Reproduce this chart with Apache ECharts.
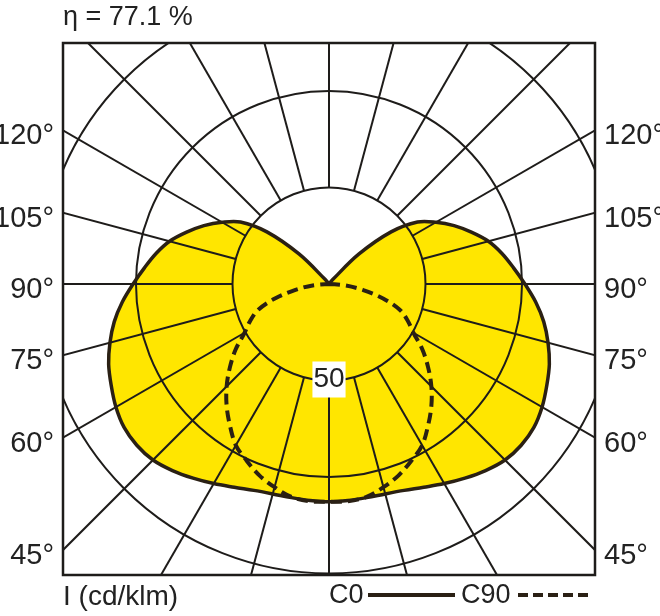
<!DOCTYPE html>
<html><head><meta charset="utf-8">
<script src="https://cdn.jsdelivr.net/npm/echarts@6/dist/echarts.min.js"></script>
<style>html,body{margin:0;padding:0;background:#fff}#c{width:660px;height:616px}</style>
</head><body><div id="c"></div>
<script>
// ---- data ----
const gammaDeg = [0,5,10,15,20,25,30,35,40,45,50,55,60,65,70,75,80,85,90,95,100,105,110,115,120,125,130,135,140,145,150,155,160,165,170,175,180];
const c0Values = [112.8,112.6,112.4,112.6,113.8,116.2,119.4,122.8,126.2,129.0,130.0,129.6,127.5,124.5,121.5,117.5,113.0,107.5,101.5,96.0,91.0,85.5,78.5,71.5,64.0,56.0,42.0,22.0,3.0,0,0,0,0,0,0,0,0];
const c90Values = [112.8,113.0,112.0,109.0,105.5,101.0,96.5,89.5,82.5,75.0,67.0,59.0,50.5,45.0,39.0,29.0,18.0,8.5,0,0,0,0,0,0,0,0,0,0,0,0,0,0,0,0,0,0,0];
const ringValues = [50,100,150];
const spokeDeg = [0,15,30,45,60,75,90,105,120,135,150,165,180,195,210,225,240,255,270,285,300,315,330,345];
const angleTickDeg = [45,60,75,90,105,120];
const angleTickLabels = ['45°','60°','75°','90°','105°','120°'];
const efficiencyText = 'η = 77.1 %';
const unitText = 'I (cd/klm)';
const ringLabelValue = 50;
const legendNames = ['C0','C90'];

// ---- layout / style ----
const X_EXT = 137.82, Y_TOP = 124.87, Y_BOTTOM = -150.78;
const FONT = "'Liberation Sans', Arial, sans-serif";
const INK = '#1e1c1a';
const TEXT = '#222222';
const CURVE = '#2a2014';
const YELLOW = '#FFE600';

function toXY(g, I, side) {
  const r = g * Math.PI / 180;
  return [side * I * Math.sin(r), -I * Math.cos(r)];
}
function curvePoints(vals) {
  let z = vals.findIndex((v, i) => i > 0 && v === 0);
  if (z < 0) z = vals.length - 1;
  const pts = [];
  for (let i = z; i >= 0; i--) pts.push(toXY(gammaDeg[i], vals[i], 1));
  for (let i = 1; i <= z; i++) pts.push(toXY(gammaDeg[i], vals[i], -1));
  return pts;
}
const c0Pts = curvePoints(c0Values);
const c90Pts = curvePoints(c90Values);

const chart = echarts.init(document.getElementById('c'), null, {renderer: 'canvas'});
chart.setOption({
  animation: false,
  backgroundColor: '#fff',
  grid: {left: 63, top: 43, width: 532, height: 532, show: true, borderColor: INK, borderWidth: 2.5, backgroundColor: 'transparent', z: 10},
  xAxis: {type: 'value', min: -X_EXT, max: X_EXT, show: false},
  yAxis: {type: 'value', min: Y_BOTTOM, max: Y_TOP, show: false},
  graphic: [
    {type: 'text', left: 63, top: 4, style: {text: efficiencyText, font: '27px ' + FONT, fill: TEXT}},
    {type: 'text', left: 63, top: 583, style: {text: unitText, font: '28px ' + FONT, fill: TEXT}},
    {type: 'text', left: 329, top: 582, style: {text: legendNames[0], font: '27px ' + FONT, fill: TEXT}},
    {type: 'line', shape: {x1: 368, y1: 595, x2: 455, y2: 595}, style: {stroke: CURVE, lineWidth: 4}},
    {type: 'text', left: 461, top: 582, style: {text: legendNames[1], font: '27px ' + FONT, fill: TEXT}},
    {type: 'line', shape: {x1: 518, y1: 595, x2: 590, y2: 595}, style: {stroke: CURVE, lineWidth: 4, lineDash: [10, 5]}}
  ],
  series: [
    { // fill
      type: 'custom', coordinateSystem: 'cartesian2d', clip: true, z: 1, data: [[0, 0]], silent: true,
      renderItem: (p, api) => ({type: 'polygon', shape: {points: c0Pts.map(q => api.coord(q)), smooth: 0.35}, style: {fill: YELLOW, stroke: null}})
    },
    { // grid
      type: 'custom', coordinateSystem: 'cartesian2d', clip: true, z: 2, data: [[0, 0]], silent: true,
      renderItem: (p, api) => {
        const c = api.coord([0, 0]);
        const children = ringValues.map(v => ({type: 'circle', shape: {cx: c[0], cy: c[1], r: api.size([v, 0])[0]}, style: {fill: null, stroke: INK, lineWidth: 2}}));
        spokeDeg.forEach(g => {
          const a = api.coord(toXY(g, ringValues[0], 1));
          const b = api.coord(toXY(g, 400, 1));
          children.push({type: 'line', shape: {x1: a[0], y1: a[1], x2: b[0], y2: b[1]}, style: {stroke: INK, lineWidth: 2}});
        });
        return {type: 'group', children};
      }
    },
    { // C90 dashed
      type: 'custom', coordinateSystem: 'cartesian2d', clip: true, z: 3, data: [[0, 0]], silent: true,
      renderItem: (p, api) => ({type: 'polyline', shape: {points: c90Pts.map(q => api.coord(q)), smooth: 0.35}, style: {fill: null, stroke: CURVE, lineWidth: 4, lineDash: [11, 6]}})
    },
    { // C0 solid
      type: 'custom', coordinateSystem: 'cartesian2d', clip: true, z: 4, data: [[0, 0]], silent: true,
      renderItem: (p, api) => ({type: 'polyline', shape: {points: c0Pts.map(q => api.coord(q)), smooth: 0.35}, style: {fill: null, stroke: CURVE, lineWidth: 3.5, lineJoin: 'round'}})
    },
    { // ring label
      type: 'custom', coordinateSystem: 'cartesian2d', clip: false, z: 5, data: [[0, 0]], silent: true,
      renderItem: (p, api) => {
        const q = api.coord([0, -ringLabelValue]);
        return {type: 'text', x: q[0], y: q[1] - 1, style: {text: String(ringLabelValue), font: '28px ' + FONT, fill: TEXT, align: 'center', verticalAlign: 'middle', backgroundColor: '#fff', padding: [5, 1, 3, 1]}};
      }
    },
    { // angle labels
      type: 'custom', coordinateSystem: 'cartesian2d', clip: false, z: 5, data: [[0, 0]], silent: true,
      renderItem: (p, api) => {
        const children = [];
        angleTickDeg.forEach((g, i) => {
          const r = g * Math.PI / 180;
          const yv = -X_EXT * Math.cos(r) / Math.sin(r);
          const L = api.coord([-X_EXT, yv]);
          const R = api.coord([X_EXT, yv]);
          children.push({type: 'text', x: L[0] - 9, y: L[1] + 6, style: {text: angleTickLabels[i], font: '29px ' + FONT, fill: TEXT, align: 'right', verticalAlign: 'middle'}});
          children.push({type: 'text', x: R[0] + 9, y: R[1] + 6, style: {text: angleTickLabels[i], font: '29px ' + FONT, fill: TEXT, align: 'left', verticalAlign: 'middle'}});
        });
        return {type: 'group', children};
      }
    }
  ]
});
</script></body></html>
